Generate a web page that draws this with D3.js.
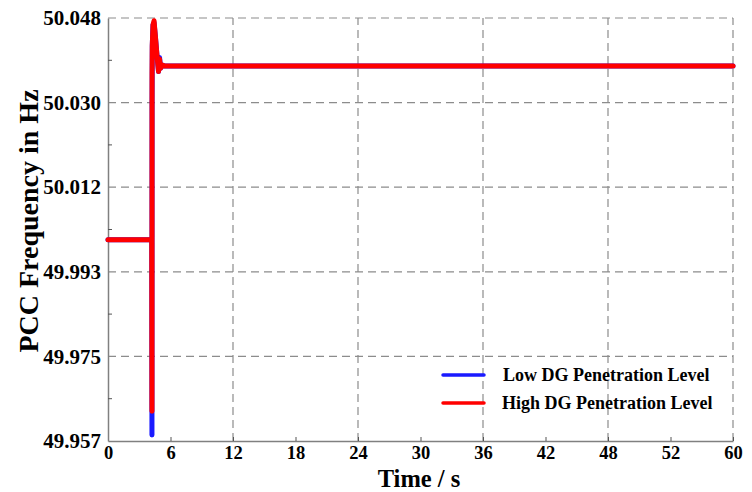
<!DOCTYPE html>
<html><head><meta charset="utf-8">
<script src="https://cdn.jsdelivr.net/npm/d3@7"></script>
<style>body{margin:0;background:#fff}svg{display:block}</style>
</head><body>
<script>
// ---- data ----
const xTickValues = [0, 6, 12, 18, 24, 30, 36, 42, 48, 54, 60];
const xTickLabels = ["0", "6", "12", "18", "24", "30", "36", "42", "48", "52", "60"];
const yTickValues = [49.957, 49.9752, 49.9934, 50.0116, 50.0298, 50.048];
const yTickLabels = ["49.957", "49.975", "49.993", "50.012", "50.030", "50.048"];
const lowTime  = [0, 4.20, 4.22, 4.23, 4.25, 4.32, 4.42, 4.55, 4.70, 4.85, 4.95, 5.05, 5.20, 5.40, 60];
const lowFreq  = [50.0003, 50.0003, 49.9583, 50.0300, 50.0420, 50.0465, 50.0470, 50.0440, 50.0400, 50.0365, 50.0395, 50.0372, 50.0379, 50.0377, 50.0377];
const highTime = [0, 4.20, 4.22, 4.23, 4.25, 4.32, 4.42, 4.55, 4.70, 4.85, 4.95, 5.05, 5.20, 5.40, 60];
const highFreq = [50.0003, 50.0003, 49.9634, 50.0360, 50.0420, 50.0465, 50.0474, 50.0440, 50.0400, 50.0365, 50.0392, 50.0372, 50.0379, 50.0377, 50.0377];
const seriesNames = ["Low DG Penetration Level", "High DG Penetration Level"];
const seriesColors = ["#1a1aff", "#ff0000"];

const W = 752, H = 492;
const m = {left: 108, right: 19, top: 18, bottom: 51};
const svg = d3.select("body").append("svg").attr("width", W).attr("height", H);
const x = d3.scaleLinear().domain([0, 60]).range([m.left, W - m.right]);
const y = d3.scaleLinear().domain([49.957, 50.048]).range([H - m.bottom, m.top]);
const font = "'Liberation Serif','Times New Roman',serif";

// grid
const g = svg.append("g");
g.selectAll(".vg").data([12, 24, 36, 48, 60]).join("line")
  .attr("x1", d => x(d)).attr("x2", d => x(d)).attr("y1", y(49.957)).attr("y2", y(50.048))
  .attr("stroke", "#8c8c8c").attr("stroke-width", 1.2).attr("stroke-dasharray", "8,5");
g.selectAll(".hg").data(yTickValues.slice(1)).join("line")
  .attr("x1", x(0)).attr("x2", x(60)).attr("y1", d => y(d)).attr("y2", d => y(d))
  .attr("stroke", "#8c8c8c").attr("stroke-width", 1.2).attr("stroke-dasharray", "8,5");

// axes
const xAxis = d3.axisBottom(x).tickValues(xTickValues).tickFormat((d, i) => xTickLabels[i]).tickSizeInner(-4).tickSizeOuter(0).tickPadding(5);
const xa = svg.append("g").attr("transform", `translate(0,${y(49.957)})`).call(xAxis);
xa.select(".domain").attr("stroke", "#808080").attr("stroke-width", 1.5);
xa.selectAll(".tick line").attr("stroke", "#555");
xa.selectAll("text").attr("font-family", font).attr("font-weight", "bold").attr("font-size", 18.5).attr("fill", "#000");

const yMinor = d3.range(5).map(i => (yTickValues[i] + yTickValues[i + 1]) / 2);
const yAxis = d3.axisLeft(y).tickValues(yTickValues).tickFormat((d, i) => yTickLabels[i]).tickSize(0).tickPadding(7);
const ya = svg.append("g").attr("transform", `translate(${x(0)},0)`).call(yAxis);
ya.select(".domain").attr("stroke", "#808080").attr("stroke-width", 1.5);
ya.selectAll("text").attr("font-family", font).attr("font-weight", "bold").attr("font-size", 21).attr("fill", "#000");
svg.append("g").selectAll("line").data(yMinor).join("line")
  .attr("x1", x(0)).attr("x2", x(0) + 4).attr("y1", d => y(d)).attr("y2", d => y(d))
  .attr("stroke", "#555");

// lines
const line = d3.line().x(d => x(d[0])).y(d => y(d[1]));
const low = lowTime.map((t, i) => [t, lowFreq[i]]);
const high = highTime.map((t, i) => [t, highFreq[i]]);
[low, high].forEach((data, i) => {
  svg.append("path").datum(data).attr("d", line)
    .attr("fill", "none").attr("stroke", seriesColors[i]).attr("stroke-width", 5)
    .attr("stroke-linejoin", "round").attr("stroke-linecap", "round");
});

// titles
svg.append("text").attr("x", 419).attr("y", 486.5).attr("text-anchor", "middle")
  .attr("font-family", font).attr("font-weight", "bold").attr("font-size", 24.5).text("Time / s");
svg.append("text").attr("transform", "translate(38,221) rotate(-90)").attr("text-anchor", "middle")
  .attr("font-family", font).attr("font-weight", "bold").attr("font-size", 28).text("PCC Frequency in Hz");

// legend
const leg = svg.append("g");
seriesNames.forEach((n, i) => {
  const ly = 375 + i * 28;
  leg.append("line").attr("x1", 443).attr("x2", 484).attr("y1", ly).attr("y2", ly)
    .attr("stroke", seriesColors[i]).attr("stroke-width", 3.5).attr("stroke-linecap", "round");
  leg.append("text").attr("x", 503 - i).attr("y", ly + 6)
    .attr("font-family", font).attr("font-weight", "bold").attr("font-size", 18).text(n);
});
</script>
</body></html>
